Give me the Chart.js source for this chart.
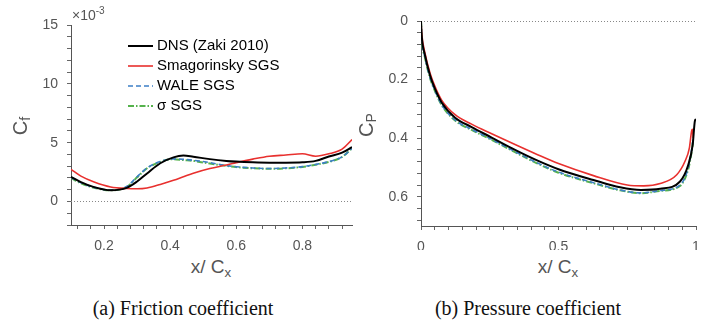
<!DOCTYPE html>
<html>
<head>
<meta charset="utf-8">
<script src="https://cdn.jsdelivr.net/npm/chart.js@4"></script>
<style>
  body { margin: 0; background: #fff; }
  #wrap { position: relative; width: 712px; height: 323px; background: #fff; overflow: hidden; }
  .box { position: absolute; }
  .lbl { position: absolute; font-family: 'Liberation Sans', Arial, sans-serif; color: #555; white-space: nowrap; }
  .lbl sub { font-size: 70%; vertical-align: -0.25em; }
  .lbl sup { font-size: 72%; vertical-align: 0.55em; }
  .cap { position: absolute; font-family: 'Liberation Serif', 'Times New Roman', serif; font-size: 20px; color: #111; white-space: nowrap; transform: translate(-50%, -50%); }
</style>
</head>
<body>
<div id="wrap">
  <div class="box" style="left:0;top:0;width:360px;height:250px"><canvas id="cf"></canvas></div>
  <div class="box" style="left:360px;top:0;width:352px;height:250px"><canvas id="cp"></canvas></div>

  <div class="lbl" style="left:72px;top:5px;font-size:14px">×10<sup>-3</sup></div>
  <div class="lbl" style="left:21px;top:126px;font-size:20px;transform:translate(-50%,-50%) rotate(-90deg)">C<sub>f</sub></div>
  <div class="lbl" style="left:367px;top:125px;font-size:20px;transform:translate(-50%,-50%) rotate(-90deg)">C<sub>P</sub></div>
  <div class="lbl" style="left:211px;top:268px;font-size:19px;transform:translate(-50%,-50%)">x/ C<sub>x</sub></div>
  <div class="lbl" style="left:558px;top:268px;font-size:19px;transform:translate(-50%,-50%)">x/ C<sub>x</sub></div>

  <div class="cap" style="left:183px;top:308px">(a) Friction coefficient</div>
  <div class="cap" style="left:528px;top:308px">(b) Pressure coefficient</div>
</div>

<script>
// ── Friction coefficient (values in units of 1e-3) ─────────────────────────
const cfX     = [0.10, 0.13, 0.17, 0.22, 0.27, 0.30, 0.33, 0.37, 0.41, 0.44, 0.47, 0.52, 0.57, 0.60, 0.65, 0.70, 0.75, 0.80, 0.84, 0.88, 0.92, 0.95];
const cfDNS   = [2.10, 1.65, 1.22, 0.95, 1.18, 1.70, 2.38, 3.25, 3.75, 3.90, 3.80, 3.60, 3.45, 3.39, 3.33, 3.30, 3.30, 3.33, 3.45, 3.82, 4.15, 4.62];
const cfSmag  = [2.73, 2.15, 1.65, 1.23, 1.10, 1.08, 1.15, 1.45, 1.80, 2.10, 2.40, 2.80, 3.10, 3.30, 3.60, 3.85, 3.95, 4.05, 3.85, 4.05, 4.45, 5.26];
const cfWALE  = [2.05, 1.60, 1.20, 0.97, 1.30, 2.10, 2.85, 3.39, 3.62, 3.58, 3.50, 3.30, 3.05, 2.95, 2.85, 2.80, 2.85, 2.96, 3.15, 3.39, 3.80, 4.50];
const cfSigma = [2.00, 1.55, 1.17, 0.95, 1.27, 2.05, 2.82, 3.36, 3.60, 3.52, 3.45, 3.22, 3.02, 2.92, 2.82, 2.78, 2.82, 2.94, 3.12, 3.36, 3.78, 4.54];

// ── Pressure coefficient ────────────────────────────────────────────────────
const cpXDNS   = [0, 0.0024, 0.0145, 0.033, 0.051, 0.075, 0.124, 0.184, 0.257, 0.342, 0.42, 0.5, 0.627, 0.724, 0.8, 0.87, 0.942, 0.972, 0.988, 0.996, 1.0];
const cpDNS    = [0, 0.048, 0.117, 0.186, 0.232, 0.278, 0.330, 0.362, 0.398, 0.440, 0.475, 0.506, 0.543, 0.568, 0.577, 0.573, 0.548, 0.491, 0.422, 0.341, 0.335];
const cpXSmag  = [0, 0.0024, 0.0145, 0.033, 0.051, 0.075, 0.124, 0.184, 0.257, 0.342, 0.42, 0.5, 0.627, 0.75, 0.81, 0.87, 0.93, 0.96, 0.976, 0.984, 0.987, 0.99];
const cpSmag   = [0, 0.040, 0.110, 0.178, 0.224, 0.270, 0.320, 0.352, 0.385, 0.422, 0.455, 0.487, 0.528, 0.560, 0.563, 0.555, 0.525, 0.479, 0.433, 0.376, 0.370, 0.400];
const cpXLes   = [0, 0.0024, 0.0145, 0.033, 0.051, 0.075, 0.124, 0.184, 0.257, 0.342, 0.42, 0.5, 0.627, 0.724, 0.8, 0.87, 0.942, 0.972, 0.984, 0.99];
const cpWALE   = [0, 0.053, 0.123, 0.193, 0.238, 0.285, 0.338, 0.370, 0.404, 0.446, 0.483, 0.516, 0.552, 0.577, 0.587, 0.579, 0.560, 0.500, 0.440, 0.400];
const cpSigma  = [0, 0.055, 0.125, 0.195, 0.240, 0.287, 0.340, 0.372, 0.406, 0.448, 0.485, 0.518, 0.554, 0.578, 0.588, 0.580, 0.563, 0.505, 0.448, 0.405];

const seriesNames = ['DNS (Zaki 2010)', 'Smagorinsky SGS', 'WALE SGS', 'σ SGS'];

const STYLE = [
  { color: '#000000', width: 2,   dash: [] },
  { color: '#e8302e', width: 1.6, dash: [] },
  { color: '#3d7fc6', width: 1.6, dash: [5, 3] },
  { color: '#55b24c', width: 2,   dash: [6, 2, 1.5, 2] }
];

Chart.defaults.font.family = "'Liberation Sans', Arial, sans-serif";
Chart.defaults.animation = false;

const pts = (xs, ys) => xs.map((x, i) => ({ x, y: ys[i] }));

function makeDataset(i, xs, ys) {
  return {
    label: seriesNames[i],
    data: pts(xs, ys),
    borderColor: STYLE[i].color,
    borderWidth: STYLE[i].width,
    borderDash: STYLE[i].dash,
    pointRadius: 0,
    fill: false,
    cubicInterpolationMode: 'monotone'
  };
}

// dotted reference line at y = 0
const zeroLine = {
  id: 'zeroLine',
  beforeDatasetsDraw(chart) {
    const { ctx, chartArea } = chart;
    const y = chart.scales.y.getPixelForValue(0);
    ctx.save();
    ctx.strokeStyle = '#888';
    ctx.lineWidth = 1;
    ctx.setLineDash([1, 2]);
    ctx.beginPath();
    ctx.moveTo(chartArea.left, Math.round(y) + 0.5);
    ctx.lineTo(chartArea.right, Math.round(y) + 0.5);
    ctx.stroke();
    ctx.restore();
  }
};

// legend drawn inside the plot area
const insideLegend = {
  id: 'insideLegend',
  afterDraw(chart) {
    const { ctx, chartArea } = chart;
    const x0 = chartArea.left + 57, y0 = chartArea.top + 21;
    ctx.save();
    ctx.font = "15px 'Liberation Sans', Arial, sans-serif";
    ctx.textBaseline = 'middle';
    chart.data.datasets.forEach((ds, i) => {
      const y = y0 + i * 20;
      ctx.strokeStyle = ds.borderColor;
      ctx.lineWidth = ds.borderWidth;
      ctx.setLineDash(ds.borderDash);
      ctx.beginPath();
      ctx.moveTo(x0, y);
      ctx.lineTo(x0 + 25, y);
      ctx.stroke();
      ctx.fillStyle = '#000';
      ctx.fillText(ds.label, x0 + 29, y);
    });
    ctx.restore();
  }
};

function axisStyle(extra) {
  return Object.assign({
    grid: { drawOnChartArea: false, drawTicks: true, tickLength: 4, color: '#666' },
    border: { display: true, color: '#555', width: 1 },
    ticks: { color: '#555', font: { size: 14 }, padding: 9, maxRotation: 0, autoSkip: false }
  }, extra);
}

function setTicks(values) {
  return scale => { scale.ticks = values.map(v => ({ value: v })); };
}

// ── (a) Friction coefficient ────────────────────────────────────────────────
const cfXTicks = [];
for (let i = 3; i <= 23; i++) cfXTicks.push(+(i * 0.04).toFixed(2));
const cfYTicks = [];
for (let v = -2; v <= 15; v++) cfYTicks.push(v);

new Chart(document.getElementById('cf'), {
  type: 'line',
  data: {
    datasets: [
      makeDataset(0, cfX, cfDNS),
      makeDataset(1, cfX, cfSmag),
      makeDataset(2, cfX, cfWALE),
      makeDataset(3, cfX, cfSigma)
    ]
  },
  options: {
    responsive: true,
    maintainAspectRatio: false,
    layout: { padding: { top: 25, right: 8, left: 0, bottom: 0 } },
    plugins: { legend: { display: false }, tooltip: { enabled: false } },
    scales: {
      x: axisStyle({
        type: 'linear', min: 0.1, max: 0.95,
        afterBuildTicks: setTicks(cfXTicks),
        afterFit: s => { s.height = 25; },
        ticks: {
          color: '#555', font: { size: 14 }, padding: 9, maxRotation: 0, autoSkip: false,
          callback: (v, i) => ((i + 3) % 5 === 0 ? v.toFixed(1) : '')
        }
      }),
      y: axisStyle({
        type: 'linear', min: -2, max: 15,
        afterBuildTicks: setTicks(cfYTicks),
        afterFit: s => { s.width = 71; },
        ticks: {
          color: '#555', font: { size: 14 }, padding: 9, autoSkip: false,
          callback: v => (v % 5 === 0 ? String(v) : '')
        }
      })
    }
  },
  plugins: [zeroLine, insideLegend]
});

// ── (b) Pressure coefficient ────────────────────────────────────────────────
const cpXTicks = [];
for (let i = 0; i <= 20; i++) cpXTicks.push(+(i * 0.05).toFixed(2));
const cpYTicks = [];
for (let i = 0; i <= 17; i++) cpYTicks.push(+(i * 0.04).toFixed(2));

new Chart(document.getElementById('cp'), {
  type: 'line',
  data: {
    datasets: [
      makeDataset(0, cpXDNS, cpDNS),
      makeDataset(1, cpXSmag, cpSmag),
      makeDataset(2, cpXLes, cpWALE),
      makeDataset(3, cpXLes, cpSigma)
    ]
  },
  options: {
    responsive: true,
    maintainAspectRatio: false,
    layout: { padding: { top: 21, right: 16, left: 0, bottom: 0 } },
    plugins: { legend: { display: false }, tooltip: { enabled: false } },
    scales: {
      x: axisStyle({
        type: 'linear', min: 0, max: 1,
        afterBuildTicks: setTicks(cpXTicks),
        afterFit: s => { s.height = 24; },
        ticks: {
          color: '#555', font: { size: 14 }, padding: 9, maxRotation: 0, autoSkip: false,
          callback: (v, i) => (i === 0 ? '0' : i === 10 ? '0.5' : i === 20 ? '1' : '')
        }
      }),
      y: axisStyle({
        type: 'linear', min: 0, max: 0.7, reverse: true,
        afterBuildTicks: setTicks(cpYTicks),
        afterFit: s => { s.width = 61; },
        ticks: {
          color: '#555', font: { size: 14 }, padding: 9, autoSkip: false,
          callback: (v, i) => (i % 5 === 0 ? (i === 0 ? '0' : v.toFixed(1)) : '')
        }
      })
    }
  },
  plugins: [zeroLine]
});
</script>
</body>
</html>
